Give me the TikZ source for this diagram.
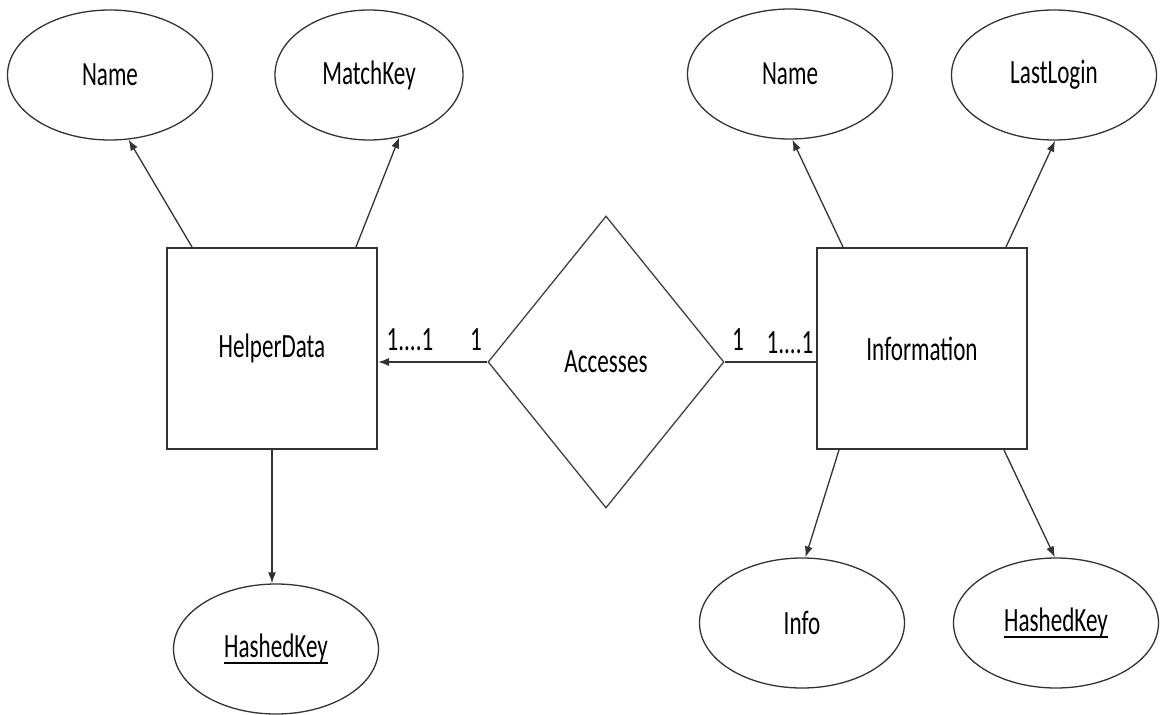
\documentclass[tikz,border=0pt]{standalone}
\usepackage{fontspec}
\setmainfont[FakeStretch=0.68]{Carlito}
\usetikzlibrary{shapes.geometric,arrows.meta}

% underlined text for key attributes
\newcommand\keyattr[1]{\setbox0\hbox{#1}\rlap{\raisebox{-6pt}{\rule{\wd0}{2pt}}}\box0}

\begin{document}
\begin{tikzpicture}[x=1pt,y=-1pt,
  every node/.style={font=\fontsize{34}{40}\selectfont, text=black},
  attr/.style={draw=black!80, line width=1.3pt, ellipse, inner sep=0pt,
               minimum width=205pt, minimum height=130pt},
  entity/.style={draw=black!80, line width=2pt, rectangle, inner sep=0pt,
                 minimum width=210pt, minimum height=201pt},
  rel/.style={draw=black!75, line width=1.3pt, diamond, inner sep=0pt,
              minimum width=236pt, minimum height=292pt},
  conn/.style={draw=black!80, line width=1.3pt},
  arr/.style={conn, -{Latex[length=11pt,width=8pt]}},
  card/.style={inner sep=0pt}
]
\useasboundingbox (0,0) rectangle (1160,715);

% entities and relationship
\node[entity] (hd)  at (272,348.5) {HelperData};
\node[entity] (inf) at (922,348.5) {Information};
\node[rel]    (acc) at (606,362)   {Accesses};

% attributes
\node[attr] (nameL) at (110,75)  {Name};
\node[attr, minimum width=188pt] (mkey) at (369,75) {MatchKey};
\node[attr] (hkL)   at (276,649) {\keyattr{HashedKey}};
\node[attr] (nameR) at (790,74)  {Name};
\node[attr] (last)  at (1054,75) {LastLogin};
\node[attr] (info)  at (802,623) {Info};
\node[attr] (hkR)   at (1056,623) {\keyattr{HashedKey}};

% attribute links
\draw[arr] ([xshift=26pt]hd.north west) -- (nameL.-74);
\draw[arr] ([xshift=-22pt]hd.north east) -- (mkey.-64);
\draw[arr] (hd.south) -- (hd.south |- hkL.north);
\draw[arr] ([xshift=27pt]inf.north west) -- (nameR.-88);
\draw[arr] ([xshift=-22pt]inf.north east) -- (last.-89);
\draw[arr] ([xshift=23pt]inf.south west) -- (info.87);
\draw[arr] ([xshift=-24pt]inf.south east) -- (hkR.91);

% relationship links
\draw[arr] (acc.west) -- (acc.west -| hd.east);
\draw[conn] (acc.east) -- (acc.east -| inf.west);

% cardinalities
\node[card] (cL1) at (410,340) {1....1};
\node[card] (cL2) at (476,340) {1};
\node[card] (cR1) at (738,340) {1};
\node[card] (cR2) at (790,343) {1....1};
\end{tikzpicture}
\end{document}
